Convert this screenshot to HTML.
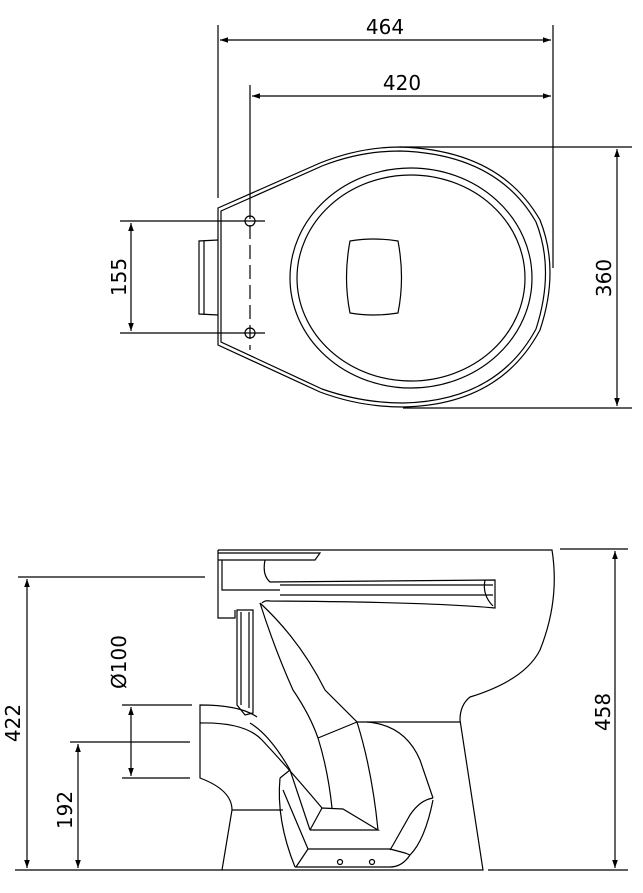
<!DOCTYPE html>
<html><head><meta charset="utf-8"><style>
html,body{margin:0;padding:0;background:#fff}
svg{display:block}
text{font-family:"DejaVu Sans","Liberation Sans",sans-serif;font-size:20px;fill:#000}
</style></head><body>
<svg width="643" height="893" viewBox="0 0 643 893" xmlns="http://www.w3.org/2000/svg" fill="none" stroke="#000" stroke-width="1.2">
<defs>
<marker id="a" viewBox="0 0 10 10" refX="10" refY="5" markerWidth="14" markerHeight="8" orient="auto-start-reverse" markerUnits="userSpaceOnUse"><path d="M0,1.5 L10,5 L0,8.5 z" fill="#000" stroke="none"/></marker>
</defs>
<!-- TOP VIEW dims -->
<line x1="218" y1="25" x2="218" y2="198"/>
<line x1="250" y1="85" x2="250" y2="205"/>
<line x1="553" y1="25" x2="553" y2="268"/>
<line x1="220" y1="40" x2="551" y2="40" marker-start="url(#a)" marker-end="url(#a)"/>
<line x1="252" y1="96" x2="551" y2="96" marker-start="url(#a)" marker-end="url(#a)"/>
<text x="385" y="34" text-anchor="middle" stroke="none">464</text>
<text x="402" y="90" text-anchor="middle" stroke="none">420</text>
<line x1="400" y1="147" x2="632" y2="147"/>
<line x1="403" y1="408" x2="632" y2="408"/>
<line x1="617" y1="149" x2="617" y2="406" marker-start="url(#a)" marker-end="url(#a)"/>
<text transform="translate(611,278) rotate(-90)" text-anchor="middle" stroke="none">360</text>
<line x1="120" y1="221" x2="265" y2="221"/>
<line x1="120" y1="333" x2="265" y2="333"/>
<line x1="131" y1="223" x2="131" y2="331" marker-start="url(#a)" marker-end="url(#a)"/>
<text transform="translate(126,277) rotate(-90)" text-anchor="middle" stroke="none">155</text>
<!-- top outline -->
<path d="M218,208 L320,163 Q360,147 400,147 Q500,150 540,220 Q560,270 540,330 Q500,405 403,407 Q360,407 320,392 L218,345 Z"/>
<path d="M221,211 L322,166 Q360,151 400,151 Q497,154 536,222 Q555,270 536,329 Q497,401 403,403 Q362,403 322,389 L221,342 Z"/>
<ellipse cx="411" cy="278" rx="121" ry="110"/>
<ellipse cx="411" cy="278" rx="114" ry="103"/>
<path d="M350,241 Q373,237 398,241 Q405,278 398,313 Q373,317 350,313 Q343,278 350,241 Z"/>
<circle cx="250" cy="221" r="5"/><circle cx="250" cy="333" r="5"/>
<line x1="250" y1="205" x2="250" y2="350" stroke-dasharray="14,6"/>
<path d="M218,240 L199,241 L199,314 L218,315"/>
<line x1="204" y1="241" x2="204" y2="314"/>
<!-- SIDE VIEW dims -->
<line x1="18" y1="577" x2="205" y2="577"/>
<line x1="15" y1="870" x2="222" y2="870"/>
<line x1="488" y1="870" x2="628" y2="870"/>
<line x1="560" y1="549" x2="628" y2="549"/>
<line x1="27" y1="579" x2="27" y2="868" marker-start="url(#a)" marker-end="url(#a)"/>
<text transform="translate(20,723) rotate(-90)" text-anchor="middle" stroke="none">422</text>
<line x1="615" y1="551" x2="615" y2="868" marker-start="url(#a)" marker-end="url(#a)"/>
<text transform="translate(610,712) rotate(-90)" text-anchor="middle" stroke="none">458</text>
<line x1="70" y1="742" x2="190" y2="742"/>
<line x1="78" y1="744" x2="78" y2="868" marker-start="url(#a)" marker-end="url(#a)"/>
<text transform="translate(72,810) rotate(-90)" text-anchor="middle" stroke="none">192</text>
<line x1="122" y1="705" x2="192" y2="705"/>
<line x1="122" y1="778" x2="190" y2="778"/>
<line x1="131" y1="707" x2="131" y2="776" marker-start="url(#a)" marker-end="url(#a)"/>
<text transform="translate(126,662) rotate(-90)" text-anchor="middle" stroke="none">Ø100</text>
<!-- side outline -->
<path d="M218,550 L552,550 Q560,600 540,650 Q525,680 470,697 Q460,705 460,720 L483,870 L222,870 L232,810 Q232,790 200,778 L200,705 Q240,705 257,717"/>
<path d="M218,550 L218,618 L235,618 L235,610 M218,553 L320,553 L315,560 L218,560 M222,560 L222,590 L280,590 M265,560 Q262,575 270,582 L495,580 L495,608 Q430,602 270,601 Q265,600 262,603"/>
<line x1="280" y1="585" x2="493" y2="585"/><line x1="280" y1="595" x2="493" y2="595"/>
<path d="M485,580 Q482,595 493,606"/>
<path d="M237,610 L237,705 L245,715 L253,713 L253,610 Z M241,612 L241,705 M249,612 L249,708"/>
<!-- trapway -->
<path d="M260,603 Q275,650 293,690 Q310,715 318,738 Q328,770 332,808"/>
<path d="M260,603 Q300,640 325,690 Q350,715 357,722 Q372,770 378,830"/>
<line x1="318" y1="738" x2="357" y2="722"/>
<line x1="357" y1="722" x2="460" y2="722"/>
<path d="M310,830 L378,830 L343,809 L322,808 L310,830"/>
<!-- outlet bands -->
<path d="M200,723 Q245,722 262,740 Q290,770 322,808"/>
<path d="M250,723 Q270,735 290,770 L310,830"/>
<path d="M280,778 L290,770"/>
<path d="M280,778 Q276,820 295,867"/>
<path d="M232,810 L283,810"/>
<!-- lower bowl -->
<path d="M367,722 Q405,725 420,760 L433,798"/>
<path d="M433,798 Q420,800 410,815 L393,845 L390,850"/>
<path d="M433,800 Q425,840 410,855 Q402,867 390,867 L295,867"/>
<path d="M283,790 L308,849 L390,849 M308,849 L296,867"/>
<path d="M390,849 L405,853 L410,855"/>
<circle cx="340" cy="862" r="2.5"/><circle cx="372" cy="862" r="2.5"/>
</svg>
</body></html>
